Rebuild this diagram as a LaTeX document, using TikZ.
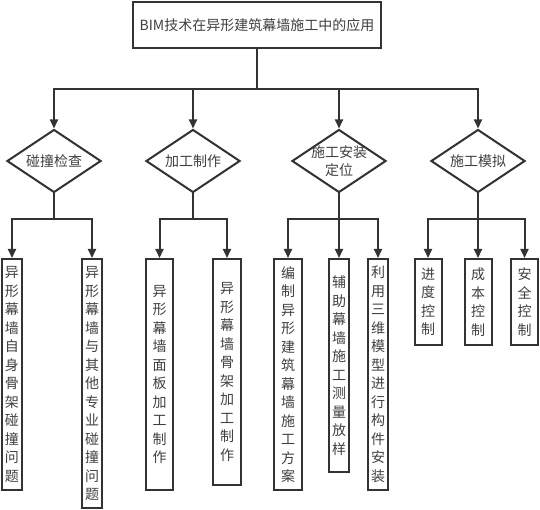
\documentclass[tikz,border=0pt]{standalone}
\usepackage{fontspec}
\newfontfamily\cjk{Noto Sans CJK SC}
\usetikzlibrary{shapes.geometric,arrows.meta}
\definecolor{linegray}{HTML}{333333}
\definecolor{textgray}{HTML}{404040}

\begin{document}
\begin{tikzpicture}[x=1pt, y=-1pt,
    block_root/.style ={rectangle, draw=linegray, line width=2pt, fill=white,
      minimum width=248pt, minimum height=46pt,
      font=\cjk\fontsize{14}{18.5}\selectfont, text=textgray},
    decision/.style ={diamond, draw=linegray, line width=2pt, fill=white,
      minimum width=94pt, minimum height=63pt, inner sep=0pt},
    block_leaf/.style ={rectangle, draw=linegray, line width=2pt, fill=white,
      anchor=north, align=center, inner sep=2pt,
      font=\cjk\fontsize{14}{18.5}\selectfont, text=textgray},
    every label/.style ={align=center, text=textgray,
      font=\cjk\fontsize{14}{18.5}\selectfont},
    line/.style ={draw=linegray, line width=2pt},
    arrow/.style ={line, -{Triangle[length=9pt,width=8pt]}}]
    % page frame
    \useasboundingbox (0,0) rectangle (540,510);
    % top level
    \node [block_root] (root) at (257,25) {BIM技术在异形建筑幕墙施工中的应用};
    % second level
    \node [decision, label={center:碰撞检查}] (clash) at (54,161) {};
    \node [decision, label={center:加工制作}] (machining) at (193,161) {};
    \node [decision, label={center:施工安装\\定位}] (install) at (339,161) {};
    \node [decision, label={center:施工模拟}] (simulate) at (478,161) {};
    % third level
    \node [block_leaf, minimum width=20pt, minimum height=231pt] (collide_self) at (12,258)
      {异\\形\\幕\\墙\\自\\身\\骨\\架\\碰\\撞\\问\\题};
    \node [block_leaf, minimum width=20pt, minimum height=249pt] (collide_other) at (92,258)
      {异\\形\\幕\\墙\\与\\其\\他\\专\\业\\碰\\撞\\问\\题};
    \node [block_leaf, minimum width=27pt, minimum height=231pt] (panel) at (159.5,258)
      {异\\形\\幕\\墙\\面\\板\\加\\工\\制\\作};
    \node [block_leaf, minimum width=28pt, minimum height=226pt] (frame) at (227,258)
      {异\\形\\幕\\墙\\骨\\架\\加\\工\\制\\作};
    \node [block_leaf, minimum width=28pt, minimum height=231pt] (scheme) at (288,258)
      {编\\制\\异\\形\\建\\筑\\幕\\墙\\施\\工\\方\\案};
    \node [block_leaf, minimum width=20pt, minimum height=213pt] (survey) at (339,258)
      {辅\\助\\幕\\墙\\施\\工\\测\\量\\放\\样};
    \node [block_leaf, minimum width=20pt, minimum height=231pt] (assembly) at (378,258)
      {利\\用\\三\\维\\模\\型\\进\\行\\构\\件\\安\\装};
    \node [block_leaf, minimum width=27pt, minimum height=86pt] (progress) at (428,258)
      {进\\度\\控\\制};
    \node [block_leaf, minimum width=27pt, minimum height=86pt] (cost) at (478,258)
      {成\\本\\控\\制};
    \node [block_leaf, minimum width=27pt, minimum height=86pt] (safety) at (524.5,258)
      {安\\全\\控\\制};
    % connecting nodes with paths
    \coordinate (root_bus) at (root.south |- 0,89);
    \draw [line] (root.south) -- (root_bus);
    \foreach \d in {clash,machining,install,simulate}
      \draw [arrow] (root_bus) -| (\d.north);
    \foreach \d/\kids in {clash/{collide_self,collide_other},
        machining/{panel,frame},
        install/{scheme,survey,assembly},
        simulate/{progress,cost,safety}} {
      \coordinate (\d_bus) at (\d.south |- 0,219);
      \draw [line] (\d.south) -- (\d_bus);
      \foreach \k in \kids
        \draw [arrow] (\d_bus) -| (\k.north);
    }
\end{tikzpicture}
\end{document}
